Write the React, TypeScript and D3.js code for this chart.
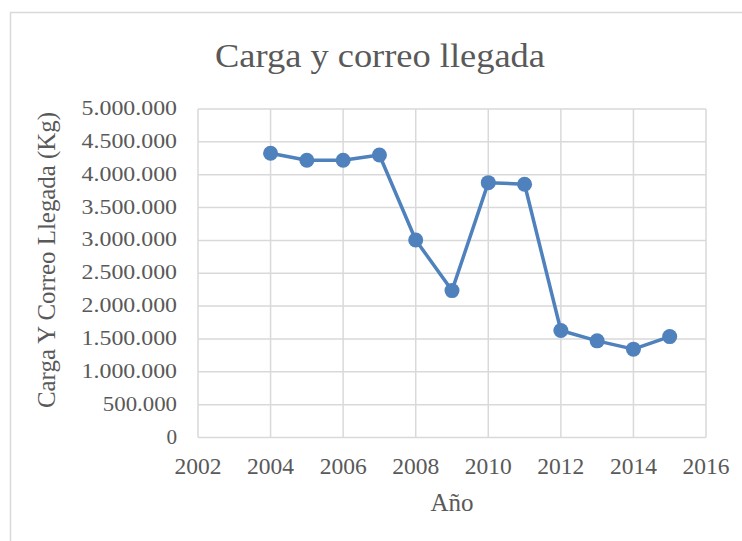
import React, { useEffect, useRef } from "react";
import * as d3 from "d3";

// values
const years = [2004, 2005, 2006, 2007, 2008, 2009, 2010, 2011, 2012, 2013, 2014, 2015];
const cargo = [4326000, 4220000, 4220000, 4300000, 3007000, 2236000, 3879000, 3855000, 1628000, 1471000, 1345000, 1536000];
const xTicks = [2002, 2004, 2006, 2008, 2010, 2012, 2014, 2016];
const yTicks = [0, 500000, 1000000, 1500000, 2000000, 2500000, 3000000, 3500000, 4000000, 4500000, 5000000];

const W = 742;
const H = 541;

export default function App() {
  const ref = useRef<SVGSVGElement>(null);

  useEffect(() => {
    const svg = d3.select(ref.current);
    svg.selectAll("*").remove();

    const left = 198, right = 706, top = 109, bottom = 437.5;
    const font = "'Liberation Serif', 'Times New Roman', serif";
    const txt = "#595959";
    const grid = "#d9d9d9";

    svg.append("rect").attr("width", W).attr("height", H).attr("fill", "#fff");
    svg.append("rect")
      .attr("x", 10.5).attr("y", 12.5).attr("width", W).attr("height", H)
      .attr("fill", "none").attr("stroke", grid).attr("stroke-width", 1.5);

    const x = d3.scaleLinear().domain([2002, 2016]).range([left, right]);
    const y = d3.scaleLinear().domain([0, 5000000]).range([bottom, top]);
    const fmt = (v: number) => d3.format(",")(v).replace(/,/g, ".");

    // grid lines
    svg.append("g").selectAll("line").data(yTicks).join("line")
      .attr("x1", left).attr("x2", right)
      .attr("y1", d => y(d)).attr("y2", d => y(d))
      .attr("stroke", grid).attr("stroke-width", 1.5);
    svg.append("g").selectAll("line").data(xTicks).join("line")
      .attr("x1", d => x(d)).attr("x2", d => x(d))
      .attr("y1", top).attr("y2", bottom)
      .attr("stroke", grid).attr("stroke-width", 1.5);

    // y tick labels (reference text is a bit wide, so stretch it)
    svg.append("g").selectAll("text").data(yTicks).join("text")
      .attr("x", 177).attr("y", d => y(d) + 6)
      .attr("text-anchor", "end")
      .attr("font-family", font).attr("font-size", 21).attr("fill", txt)
      .attr("textLength", d => fmt(d).length * 10.6)
      .attr("lengthAdjust", "spacingAndGlyphs")
      .text(d => fmt(d));

    // x tick labels
    svg.append("g").selectAll("text").data(xTicks).join("text")
      .attr("x", d => x(d)).attr("y", 474)
      .attr("text-anchor", "middle")
      .attr("font-family", font).attr("font-size", 23.5).attr("fill", txt)
      .text(d => d);

    const data = years.map((yr, i) => ({ yr, v: cargo[i] }));
    const line = d3.line<{ yr: number; v: number }>().x(d => x(d.yr)).y(d => y(d.v));
    svg.append("path").datum(data)
      .attr("d", line).attr("fill", "none")
      .attr("stroke", "#4f81bd").attr("stroke-width", 3.5).attr("stroke-linejoin", "round");
    svg.append("g").selectAll("circle").data(data).join("circle")
      .attr("cx", d => x(d.yr)).attr("cy", d => y(d.v)).attr("r", 7.5)
      .attr("fill", "#4f81bd");

    // titles
    svg.append("text")
      .attr("x", 380).attr("y", 67).attr("text-anchor", "middle")
      .attr("font-family", font).attr("font-size", 34).attr("fill", txt)
      .attr("textLength", 330).attr("lengthAdjust", "spacingAndGlyphs")
      .text("Carga y correo llegada");
    svg.append("text")
      .attr("x", 452).attr("y", 511).attr("text-anchor", "middle")
      .attr("font-family", font).attr("font-size", 25).attr("fill", txt)
      .text("Año");
    svg.append("text")
      .attr("transform", "translate(55,260) rotate(-90)")
      .attr("text-anchor", "middle")
      .attr("font-family", font).attr("font-size", 25).attr("fill", txt)
      .attr("textLength", 296).attr("lengthAdjust", "spacingAndGlyphs")
      .text("Carga Y Correo Llegada (Kg)");
  }, []);

  return (
    <svg ref={ref} width={W} height={H} style={{ position: "absolute", left: 0, top: 0 }} />
  );
}
